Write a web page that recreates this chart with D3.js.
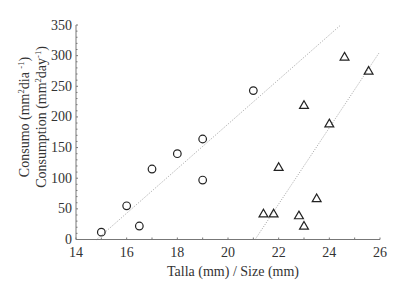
<!DOCTYPE html>
<html><head><meta charset="utf-8">
<script src="https://cdn.jsdelivr.net/npm/d3@7"></script>
<style>body{margin:0;background:#fff}</style>
</head><body><svg id="c" width="401" height="283"></svg>
<script>
const circleX = [15, 16, 16.5, 17, 18, 19, 19, 21];
const circleY = [12, 55, 22, 115, 140, 164, 97, 243];
const triX = [21.4, 21.8, 22, 22.8, 23, 23.5, 23, 24, 24.6, 25.55];
const triY = [41, 41, 117, 38, 21, 66, 218, 188, 297, 274];
const line1 = [[14.82, 0], [24.45, 350]];
const line2 = [[21.07, 0], [25.97, 305]];
const xTicks = [14, 16, 18, 20, 22, 24, 26];
const yTicks = [0, 50, 100, 150, 200, 250, 300, 350];

const svg = d3.select("#c");
const x = d3.scaleLinear().domain([14, 26]).range([76, 380]);
const y = d3.scaleLinear().domain([0, 350]).range([239.5, 25]);
const FF = '"Liberation Serif", serif';

const lg = d3.line().x(d => x(d[0])).y(d => y(d[1]));
[line1, line2].forEach(l => svg.append("path").attr("d", lg(l))
  .attr("fill", "none").attr("stroke", "#999").attr("stroke-width", 0.9).attr("stroke-dasharray", "1,1.5"));

const ax = svg.append("g").attr("stroke", "#777").attr("stroke-width", 1);
ax.append("line").attr("x1", x(14)).attr("x2", x(26)).attr("y1", y(0)).attr("y2", y(0));
ax.append("line").attr("x1", x(14)).attr("x2", x(14)).attr("y1", y(0)).attr("y2", y(350));
d3.range(14, 26.01, 1).forEach(v => ax.append("line").attr("x1", x(v)).attr("x2", x(v)).attr("y1", y(0)).attr("y2", y(0) - 2));
d3.range(0, 350.1, 10).forEach(v => ax.append("line").attr("x1", x(14)).attr("x2", x(14) + (v % 50 === 0 ? 2 : 1.5)).attr("y1", y(v)).attr("y2", y(v)));

const tc = "#333";
function txt(g) { return g.append("text").style("font-family", FF).style("font-size", "14px").attr("fill", tc); }
xTicks.forEach(v => txt(svg).attr("x", x(v)).attr("y", 257).attr("text-anchor", "middle").text(v));
yTicks.forEach(v => txt(svg).attr("x", 72).attr("y", y(v) + 4.5).attr("text-anchor", "end").text(v));

txt(svg).attr("x", 233).attr("y", 276).attr("text-anchor", "middle").text("Talla (mm) / Size (mm)");

function ytitle(xpos, parts) {
  const t = txt(svg).attr("transform", `translate(${xpos},117) rotate(-90)`).attr("text-anchor", "middle");
  parts.forEach(p => {
    const s = t.append("tspan").text(p[0]);
    if (p[1]) s.style("font-size", "8.5px").attr("dy", -5);
    else if (p[2]) s.attr("dy", 5);
  });
}
ytitle(29, [["Consumo (mm"], ["2", true], ["dia ", false, true], ["-1", true], [")", false, true]]);
ytitle(46, [["Consumption (mm"], ["2", true], ["day", false, true], ["-1", true], [")", false, true]]);

svg.append("g").selectAll("circle").data(circleX).join("circle")
  .attr("cx", d => x(d)).attr("cy", (d, i) => y(circleY[i])).attr("r", 3.8)
  .attr("fill", "none").attr("stroke", "#222").attr("stroke-width", 1.2);
const tri = d3.symbol().type(d3.symbolTriangle).size(34);
svg.append("g").selectAll("path").data(triX).join("path")
  .attr("d", tri).attr("transform", (d, i) => `translate(${x(d)},${y(triY[i])})`)
  .attr("fill", "none").attr("stroke", "#222").attr("stroke-width", 1.2);
</script></body></html>
